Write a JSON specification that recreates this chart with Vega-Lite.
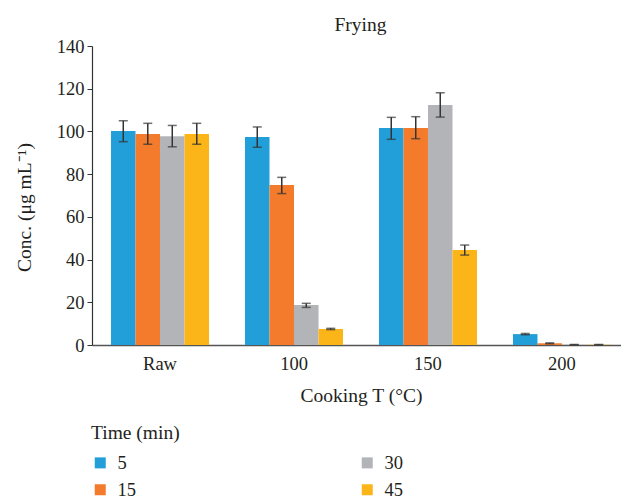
{
  "$schema": "https://vega.github.io/schema/vega-lite/v6.json",
  "autosize": {"type": "none"},
  "padding": {"left": 92, "top": 46, "right": 0, "bottom": 157},
  "width": 529,
  "height": 299,
  "title": {"text": "Frying", "fontSize": 19.5, "font": "Liberation Serif", "fontWeight": "normal", "color": "#231f20", "dx": 4, "offset": 2},
  "config": {
    "view": {"stroke": null},
    "axis": {"grid": false}
  },
  "data": {"values": [
    {"temp": "Raw", "time": "5", "conc": 100.2, "lo": 95.2, "hi": 105.0},
    {"temp": "Raw", "time": "15", "conc": 98.8, "lo": 94.0, "hi": 103.8},
    {"temp": "Raw", "time": "30", "conc": 97.8, "lo": 92.8, "hi": 102.8},
    {"temp": "Raw", "time": "45", "conc": 98.8, "lo": 94.0, "hi": 103.8},
    {"temp": "100", "time": "5", "conc": 97.4, "lo": 92.6, "hi": 102.1},
    {"temp": "100", "time": "15", "conc": 74.9, "lo": 70.9, "hi": 78.5},
    {"temp": "100", "time": "30", "conc": 18.7, "lo": 17.6, "hi": 19.5},
    {"temp": "100", "time": "45", "conc": 7.5, "lo": 7.2, "hi": 7.8},
    {"temp": "150", "time": "5", "conc": 101.6, "lo": 96.3, "hi": 106.6},
    {"temp": "150", "time": "15", "conc": 101.6, "lo": 96.6, "hi": 106.9},
    {"temp": "150", "time": "30", "conc": 112.4, "lo": 106.7, "hi": 118.1},
    {"temp": "150", "time": "45", "conc": 44.5, "lo": 42.1, "hi": 46.8},
    {"temp": "200", "time": "5", "conc": 5.1, "lo": 4.8, "hi": 5.4},
    {"temp": "200", "time": "15", "conc": 0.8, "lo": 0.6, "hi": 1.0},
    {"temp": "200", "time": "30", "conc": 0.15, "lo": 0.05, "hi": 0.25},
    {"temp": "200", "time": "45", "conc": 0.15, "lo": 0.05, "hi": 0.25}
  ]},
  "encoding": {
    "x": {"field": "temp", "type": "nominal", "sort": ["Raw", "100", "150", "200"],
      "scale": {"range": [0, 538], "paddingInner": 0.2687, "paddingOuter": 0.142},
      "axis": {"title": "Cooking T (°C)", "labelAngle": 0, "ticks": false, "domainColor": "#555555", "domainWidth": 1.5, "labelPadding": 9, "titlePadding": 14,
        "labelFont": "Liberation Serif", "titleFont": "Liberation Serif", "labelFontSize": 18.5, "titleFontSize": 19.5, "titleFontWeight": "normal", "labelColor": "#231f20", "titleColor": "#231f20"}},
    "xOffset": {"field": "time", "type": "nominal", "scale": {"domain": ["5", "15", "30", "45"], "paddingInner": 0, "paddingOuter": 0}}
  },
  "layer": [
    {
      "mark": {"type": "bar"},
      "encoding": {
        "y": {"field": "conc", "type": "quantitative", "scale": {"domain": [0, 140]},
          "axis": {"title": "Conc. (μg mL⁻¹)", "values": [0, 20, 40, 60, 80, 100, 120, 140], "tickSize": 5, "tickColor": "#333333", "domainColor": "#333333", "domainWidth": 1.2, "labelPadding": 3, "titlePadding": 22, "titleY": 161,
            "labelFont": "Liberation Serif", "titleFont": "Liberation Serif", "labelFontSize": 18.5, "titleFontSize": 19.5, "titleFontWeight": "normal", "labelColor": "#231f20", "titleColor": "#231f20"}},
        "color": {"field": "time", "type": "nominal",
          "scale": {"domain": ["5", "15", "30", "45"], "range": ["#229fd9", "#f47b2c", "#b3b4b8", "#fbb519"]},
          "legend": {"title": "Time (min)", "orient": "none", "legendX": -1, "legendY": 378, "columns": 2, "columnPadding": 222, "rowPadding": 8, "symbolType": "square", "symbolSize": 121, "symbolStrokeWidth": 0, "symbolOpacity": 1,
            "labelFont": "Liberation Serif", "titleFont": "Liberation Serif", "labelFontSize": 18.5, "titleFontSize": 19.5, "titleFontWeight": "normal", "titleColor": "#231f20", "labelColor": "#231f20", "titlePadding": 10, "labelOffset": 8}}
      }
    },
    {
      "mark": {"type": "rule", "color": "#333333", "strokeWidth": 1.5},
      "encoding": {"y": {"field": "lo", "type": "quantitative"}, "y2": {"field": "hi"}}
    },
    {
      "mark": {"type": "tick", "color": "#333333", "thickness": 1.5, "size": 9},
      "encoding": {"y": {"field": "lo", "type": "quantitative"}}
    },
    {
      "mark": {"type": "tick", "color": "#333333", "thickness": 1.5, "size": 9},
      "encoding": {"y": {"field": "hi", "type": "quantitative"}}
    }
  ]
}
